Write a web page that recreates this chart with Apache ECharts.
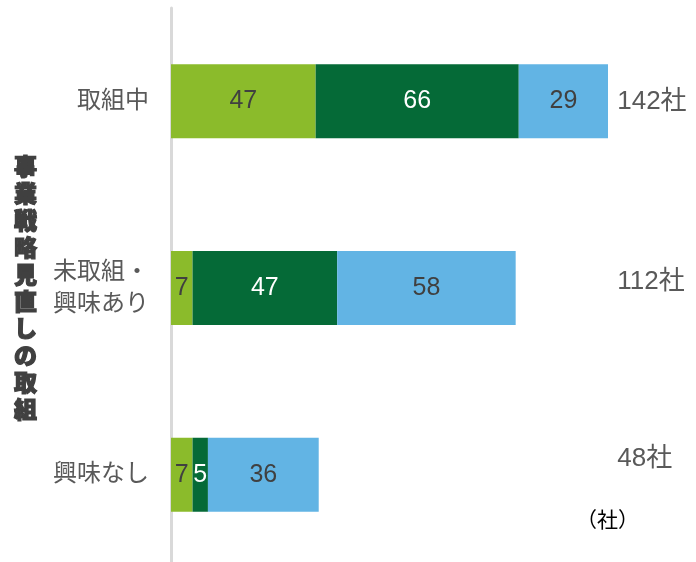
<!DOCTYPE html>
<html><head><meta charset="utf-8">
<script src="https://cdn.jsdelivr.net/npm/echarts@6/dist/echarts.min.js"></script>
<style>html,body{margin:0;padding:0;background:#fff}#c{width:696px;height:562px}</style>
</head><body><div id="c"></div>
<script>
const categories = ['取組中', '未取組・\n興味あり', '興味なし'];
const seriesA = [47, 7, 7];
const seriesB = [66, 47, 5];
const seriesC = [29, 58, 36];
const totals = ['142社', '112社', '48社'];
const axisTitle = '事業戦略見直しの取組';
const unitLabel = '（社）';

const FONT = '"Liberation Sans", "Noto Sans CJK JP", sans-serif';
const chart = echarts.init(document.getElementById('c'));
function mk(name, data, color, labelColor) {
  return {
    name, type: 'bar', stack: 't', data, barWidth: 74,
    itemStyle: { color },
    label: { show: true, position: 'inside', color: labelColor, fontSize: 25, fontFamily: FONT },
    emphasis: { disabled: true }
  };
}
chart.setOption({
  animation: false,
  grid: { left: 171, top: 8, width: 437 * 145 / 142, height: 560, outerBoundsMode: 'none', containLabel: false },
  xAxis: { type: 'value', min: 0, max: 145, show: false },
  yAxis: [{
    type: 'category', data: categories, inverse: true,
    axisLine: { lineStyle: { color: '#d9d9d9', width: 3 } },
    axisTick: { show: false },
    axisLabel: { color: '#595959', fontSize: 24, fontFamily: FONT, margin: 22, lineHeight: 32 },
    name: axisTitle.split('').join('\n'),
    nameLocation: 'middle', nameRotate: 0, nameGap: 134,
    nameTextStyle: { color: '#404040', fontSize: 23, fontWeight: 900, lineHeight: 27,
      fontFamily: '"Noto Sans CJK JP", sans-serif', textBorderColor: '#404040', textBorderWidth: 1.2 }
  }, {
    type: 'category', data: totals, inverse: true, position: 'right',
    axisLine: { show: false }, axisTick: { show: false },
    axisLabel: {
      margin: 0, align: 'left', fontFamily: FONT,
      formatter: (v, i) => '{r' + i + '|' + v + '}',
      rich: {
        r0: { color: '#595959', fontSize: 26, fontFamily: FONT, padding: [0, 0, 0, 0] },
        r1: { color: '#595959', fontSize: 26, fontFamily: FONT, padding: [0, 0, 12, 0] },
        r2: { color: '#595959', fontSize: 26, fontFamily: FONT, padding: [0, 0, 32, 0] }
      }
    }
  }],
  graphic: [{
    type: 'text', left: 576, top: 509,
    style: { text: unitLabel, fill: '#000', font: '21px "Noto Sans CJK JP", sans-serif' }
  }],
  series: [
    mk('a', seriesA, '#8bbb2b', '#404040'),
    mk('b', seriesB, '#056a37', '#ffffff'),
    mk('c', seriesC, '#62b4e4', '#404040')
  ]
});
</script></body></html>
